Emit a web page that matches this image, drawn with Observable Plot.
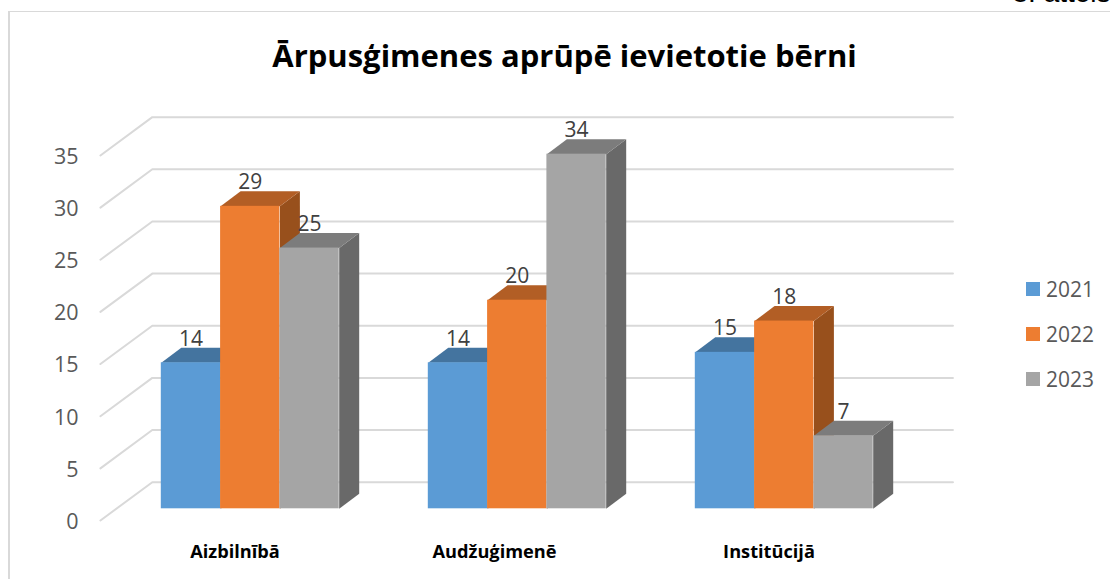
<!DOCTYPE html>
<html lang="lv">
<head>
<meta charset="utf-8">
<script src="https://cdn.jsdelivr.net/npm/d3@7"></script>
<script src="https://cdn.jsdelivr.net/npm/@observablehq/plot@0.6"></script>
<style>
  html, body { margin: 0; padding: 0; background: #fff; overflow: hidden; }
  #stage { position: relative; width: 1110px; height: 579px; overflow: hidden; font-family: "Open Sans", sans-serif; }
  #card { position: absolute; left: 8px; top: 11px; right: -2px; bottom: -2px; border-left: 2px solid #d9d9d9; border-top: 1.5px solid #d9d9d9; box-sizing: border-box; }
  #chart { position: absolute; left: 0; top: 0; }
  #chart svg { background: transparent; }
  #legend { position: absolute; left: 1026px; top: 266px; }
  .item { display: flex; align-items: center; height: 45px; font-size: 21px; color: #595959; }
  .swatch { width: 14px; height: 14px; margin-right: 6px; }
</style>
</head>
<body>
<div id="stage">
  <div id="card"></div>
  <div id="chart"></div>
  <div id="legend"></div>
</div>
<script>
const titleText = "Ārpusģimenes aprūpē ievietotie bērni";
const noteText = "8. attēls";
const categories = ["Aizbilnībā", "Audžuģimenē", "Institūcijā"];
const years = ["2021", "2022", "2023"];
const values2021 = [14, 14, 15];
const values2022 = [29, 20, 18];
const values2023 = [25, 34, 7];
const yTicks = [0, 5, 10, 15, 20, 25, 30, 35];

const frontColors = ["#5B9BD5", "#ED7D31", "#A5A5A5"];
const topColors = ["#44749F", "#B25E25", "#7C7C7C"];
const sideColors = ["#3D6A91", "#98501C", "#696969"];

const seriesValues = [values2021, values2022, values2023];

// 3-D geometry, expressed in scale units (1 x unit = one category step)
const barW = 59.3 / 267;
const depthX = 20 / 267;
const depthY = 15 / 10.43;
const gridFrontX = -0.228, gridBackX = -0.0337, gridEndX = 2.965;
const gridFrontY = -1.12, gridBackY = 2.55;
const labelX = [0.276, 1.248, 2.276];

const gridLines = yTicks.flatMap((v) => [
  {v, x: gridFrontX, y: v + gridFrontY},
  {v, x: gridBackX, y: v + gridBackY},
  {v, x: gridEndX, y: v + gridBackY}
]);

const barMarks = years.flatMap((yr, s) => {
  const bars = categories.map((c, i) => {
    const x0 = i + s * barW, x1 = x0 + barW, value = seriesValues[s][i];
    return {c, x0, x1, value};
  });
  const side = bars.flatMap((b) => [
    {id: b.c, x: b.x1, y: 0},
    {id: b.c, x: b.x1 + depthX, y: depthY},
    {id: b.c, x: b.x1 + depthX, y: b.value + depthY},
    {id: b.c, x: b.x1, y: b.value}
  ]);
  const top = bars.flatMap((b) => [
    {id: b.c, x: b.x0, y: b.value},
    {id: b.c, x: b.x0 + depthX, y: b.value + depthY},
    {id: b.c, x: b.x1 + depthX, y: b.value + depthY},
    {id: b.c, x: b.x1, y: b.value}
  ]);
  return [
    Plot.line(side, {x: "x", y: "y", z: "id", fill: sideColors[s], stroke: null, curve: "linear"}),
    Plot.line(top, {x: "x", y: "y", z: "id", fill: topColors[s], stroke: null, curve: "linear"}),
    Plot.rect(bars, {x1: "x0", x2: "x1", y1: 0, y2: "value", fill: frontColors[s]})
  ];
});

const labelData = years.flatMap((yr, s) => categories.map((c, i) => ({
  x: i + (s + 0.5) * barW,
  y: seriesValues[s][i] + depthY,
  text: String(seriesValues[s][i])
})));

const plot = Plot.plot({
  width: 1110,
  height: 579,
  marginTop: 0, marginRight: 0, marginBottom: 0, marginLeft: 0,
  style: {fontFamily: "'Open Sans', sans-serif", background: "transparent"},
  x: {domain: [0, 1], range: [160.8, 427.8], axis: null},
  y: {domain: [0, 35], range: [508.3, 143.25]},
  marks: [
    Plot.line(gridLines, {x: "x", y: "y", z: "v", stroke: "#d9d9d9", strokeWidth: 2, curve: "linear"}),
    Plot.axisY({ticks: yTicks, tickSize: 0, tickPadding: 0, dx: 78, dy: 13.2, fontSize: 21.5, fill: "#595959", label: null, tickFormat: (d) => String(d)}),
    ...barMarks,
    Plot.text(labelData, {x: "x", y: "y", text: "text", dy: -2, lineAnchor: "bottom", fontSize: 21, fill: "#404040"}),
    Plot.text(categories, {x: (d, i) => labelX[i], y: -4.2, text: (d) => d, fontSize: 18.2, fontWeight: 700, fill: "#000000"}),
    Plot.text([titleText], {frameAnchor: "top-left", dx: 564, dy: 57, text: (d) => d, textAnchor: "middle", lineAnchor: "middle", fontSize: 31, fontWeight: 700, fill: "#000000"}),
    Plot.text([noteText], {frameAnchor: "top-left", dx: 1012, dy: 1, text: (d) => d, textAnchor: "start", lineAnchor: "bottom", fontSize: 28, fontFamily: "'Liberation Sans', sans-serif", fill: "#000000"})
  ]
});
document.getElementById("chart").appendChild(plot);

const legend = d3.select("#legend");
years.forEach((yr, s) => {
  const item = legend.append("div").attr("class", "item");
  item.append("div").attr("class", "swatch").style("background", frontColors[s]);
  item.append("span").text(yr);
});
</script>
</body>
</html>
